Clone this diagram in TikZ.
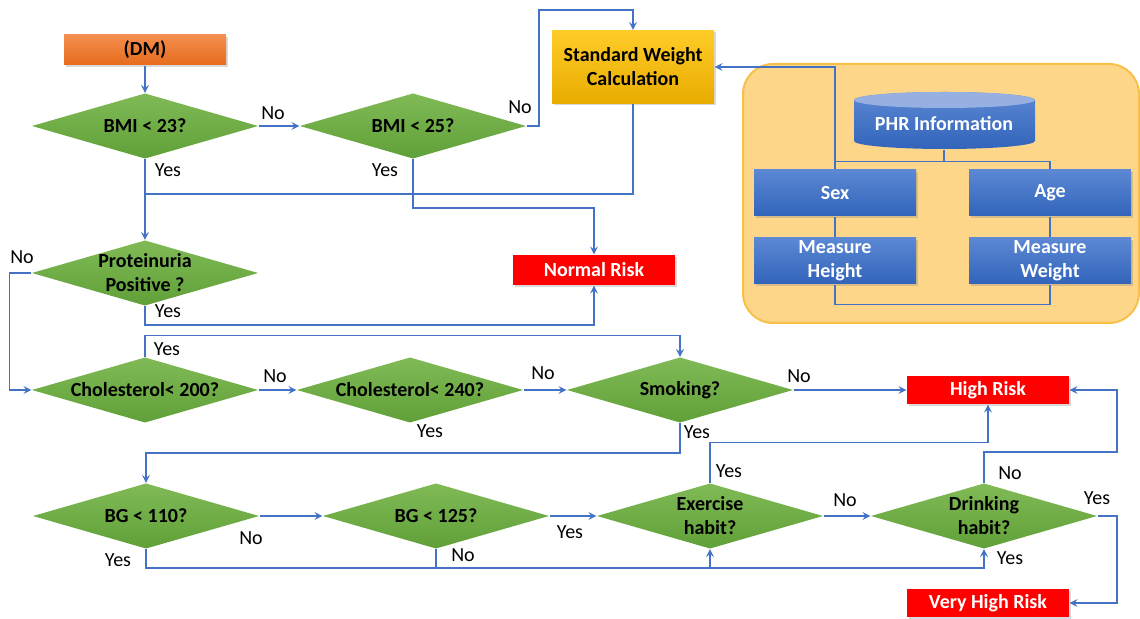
\documentclass[tikz,border=0pt]{standalone}
\usepackage{fontspec}
\setmainfont{Carlito}
\usetikzlibrary{arrows.meta,shadows}
\tikzset{>=stealth}

\definecolor{linkblue}{RGB}{68,114,196}
\definecolor{greentop}{RGB}{128,186,86}
\definecolor{greenbot}{RGB}{96,160,56}
\definecolor{orangetop}{RGB}{244,142,80}
\definecolor{orangebot}{RGB}{230,108,28}
\definecolor{goldtop}{RGB}{255,204,40}
\definecolor{goldbot}{RGB}{232,172,0}
\definecolor{bluetop}{RGB}{92,136,212}
\definecolor{bluebot}{RGB}{50,100,186}
\definecolor{cyltop}{RGB}{150,176,226}
\definecolor{panelfill}{RGB}{253,214,138}
\definecolor{panelline}{RGB}{248,192,72}

\tikzset{
  link/.style={draw=linkblue},
  box/.style={minimum width=81pt,minimum height=15pt,inner sep=1pt,align=center,font=\bfseries,
    drop shadow={opacity=.3,shadow xshift=1pt,shadow yshift=-1pt}},
  startbox/.style={box,top color=orangetop,bottom color=orangebot},
  calcbox/.style={box,minimum height=36.5pt,top color=goldtop,bottom color=goldbot},
  riskbox/.style={box,minimum height=14pt,fill=red,text=white},
  bluebox/.style={box,minimum height=23pt,top color=bluetop,bottom color=bluebot,text=white},
  decision/.style={minimum width=113pt,minimum height=32.5pt,inner sep=0pt,align=center,font=\bfseries,
    path picture={\shade[top color=greentop,bottom color=greenbot]
      (path picture bounding box.north) -- (path picture bounding box.east) --
      (path picture bounding box.south) -- (path picture bounding box.west) -- cycle;}},
  panel/.style={minimum width=198pt,minimum height=129.5pt,rounded corners=15pt,
    fill=panelfill,draw=panelline,line width=1pt},
  lbl/.style={inner sep=0pt}
}

\begin{document}
\begin{tikzpicture}[x=0.5pt,y=-0.5pt,line width=0.7pt]
\useasboundingbox (0,0) rectangle (1140,619);

% PHR side
\node[panel] (phrbox) at (941,193.5) {};
\shade[top color=bluetop,bottom color=bluebot] (854,100) -- (854,141)
  arc[start angle=180,end angle=360,x radius=45.25pt,y radius=4pt] -- (1035,100)
  arc[start angle=0,end angle=180,x radius=45.25pt,y radius=4pt] -- cycle;
\fill[cyltop] (944.5,100) ellipse[x radius=45.25pt,y radius=4pt];
\node[font=\bfseries,text=white,minimum height=25pt,inner sep=0pt] (phr) at (944,124) {PHR Information};
\node[bluebox] (sex) at (835,193) {Sex};
\node[bluebox] (age) at (1050,193) {Age};
\node[bluebox] (height) at (835,261) {Measure\\Height};
\node[bluebox] (weight) at (1050,261) {Measure\\Weight};

% flow
\node[startbox] (dm) at (145,50) {(DM)};
\node[decision] (bmiA) at (145,126) {BMI < 23?};
\node[decision] (bmiB) at (413,126) {BMI < 25?};
\node[calcbox] (swc) at (633,67) {Standard Weight\\Calculation};
\node[decision] (prot) at (145,273) {Proteinuria\\Positive ?};
\node[riskbox,minimum height=15pt] (normal) at (594,270) {Normal Risk};
\node[decision] (cholA) at (145,390) {Cholesterol< 200?};
\node[decision] (cholB) at (410,390) {Cholesterol< 240?};
\node[decision] (smoke) at (680,390) {Smoking?};
\node[riskbox] (high) at (988,390) {High Risk};
\node[decision] (bgA) at (146,516) {BG < 110?};
\node[decision] (bgB) at (436,516) {BG < 125?};
\node[decision] (exer) at (710,516) {Exercise\\habit?};
\node[decision] (drink) at (984,516) {Drinking\\habit?};
\node[riskbox] (vhigh) at (988,603) {Very High Risk};

\coordinate (c1) at (539,10);
\coordinate (j1) at (145,194);
\coordinate (j3) at (710,567);
\coordinate (c5) at (1117,452);
\coordinate (c6) at (1117,603);

% connectors
\draw[link] (phr.south) -- ++(0,12) -| (sex.north);
\draw[link] (phr.south) -- ++(0,12) -| (age.north);
\draw[link] (sex.south) -- (height.north);
\draw[link] (age.south) -- (weight.north);
\draw[link] (height.south) -- ++(0,20) -| (weight.south);
\draw[link,->] (sex.north) |- (swc.east);

\draw[link,->] (dm) -- (bmiA);
\draw[link,->] (bmiA.east) -- (bmiB.west);
\draw[link,->] (bmiB.east) -| (c1) -| (swc.north);
\draw[link] (swc.south) |- (j1);
\draw[link,->] (bmiA.south) -- (prot.north);
\draw[link,->] (bmiB.south) -- ++(0,49) -| (normal.north);
\draw[link,->] (prot.south) -- ++(0,19) -| (normal.south);
\draw[link,->] (prot.west) -- ++(-22,0) |- (cholA.west);
\draw[link,->] (cholA.north) -- ++(0,-21) -| (smoke.north);
\draw[link,->] (cholA.east) -- (cholB.west);
\draw[link,->] (cholB.east) -- (smoke.west);
\draw[link,->] (smoke.east) -- (high.west);
\draw[link,->] (smoke.south) -- ++(0,30) -| (bgA.north);
\draw[link,->] (bgA.east) -- (bgB.west);
\draw[link,->] (bgB.east) -- (exer.west);
\draw[link,->] (bgA.south) -- ++(0,19) -| (drink.south);
\draw[link] (bgB.south) -- ++(0,19);
\draw[link,->] (j3) -- (exer.south);
\draw[link,->] (exer.north) -- ++(0,-40) -| (high.south);
\draw[link,->] (exer.east) -- (drink.west);
\draw[link,->] (drink.north) |- (c5) |- (high.east);
\draw[link,->] (drink.east) -| (c6) -- (vhigh.east);

% yes / no
\foreach \x/\y/\txt [count=\i] in {273/113/No,520/107/No,168/170/Yes,385/170/Yes,22/257/No,
  168/311/Yes,167/349/Yes,275/376/No,543/373/No,430/431/Yes,799/376/No,697/432/Yes,
  251/538/No,118/560/Yes,463/555/No,570/532/Yes,729/471/Yes,845/500/No,1010/473/No,
  1097/498/Yes,1010/558/Yes}
  \node[lbl] (ans\i) at (\x,\y) {\txt};
\end{tikzpicture}
\end{document}
